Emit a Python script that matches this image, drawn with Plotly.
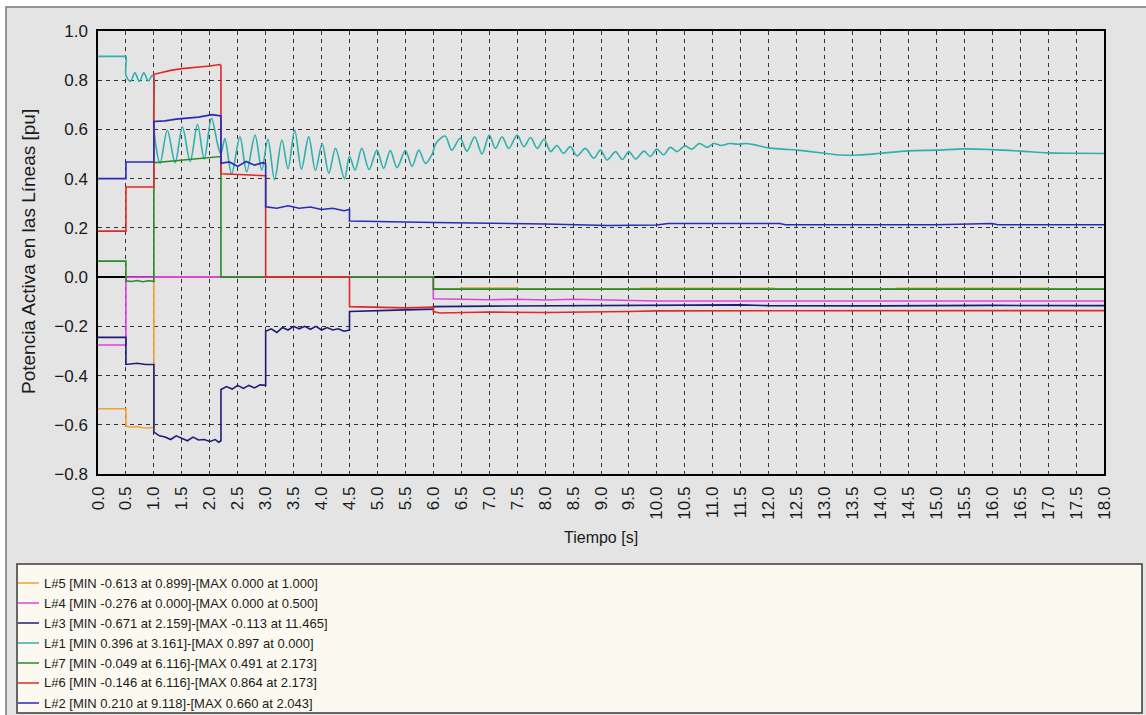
import plotly.graph_objects as go

# ---------------- data ----------------
t_L5 = [0.0, 0.5, 0.5, 0.6, 0.7, 0.8, 0.9, 1.0, 1.0, 6.0, 6.0, 6.5, 6.5, 7.5, 7.5, 9.7, 9.7, 12.1, 12.1, 14.3, 14.3, 17.0, 17.0, 18.0]
v_L5 = [-0.535, -0.535, -0.605, -0.610, -0.607, -0.612, -0.613, -0.610, 0.0, 0.0, -0.049, -0.049, -0.044, -0.044, -0.049, -0.049, -0.045, -0.045, -0.049, -0.049, -0.045, -0.045, -0.049, -0.049]

t_L4 = [0.0, 0.5, 0.5, 6.0, 6.0, 6.5, 7.0, 7.5, 8.0, 8.5, 9.0, 9.5, 10.0, 18.0]
v_L4 = [-0.276, -0.276, 0.0, 0.0, -0.088, -0.090, -0.092, -0.090, -0.093, -0.090, -0.092, -0.095, -0.097, -0.097]

t_L3 = [0.0, 0.5, 0.5, 0.7, 0.85, 1.0, 1.0, 1.1, 1.2, 1.3, 1.4, 1.5, 1.6, 1.7, 1.8, 1.9, 2.0, 2.1, 2.16, 2.2,
        2.2, 2.3, 2.4, 2.5, 2.6, 2.7, 2.8, 2.9, 3.0, 3.0, 3.1, 3.2, 3.3, 3.4, 3.5, 3.6, 3.7, 3.8, 3.9, 4.0,
        4.1, 4.2, 4.3, 4.4, 4.5, 4.5, 5.0, 5.5, 6.0, 6.0, 7.0, 8.0, 9.0, 10.0, 11.0, 11.465, 12.0, 14.0, 16.0, 18.0]
v_L3 = [-0.245, -0.245, -0.355, -0.350, -0.355, -0.355, -0.630, -0.645, -0.650, -0.660, -0.645, -0.655, -0.665, -0.650, -0.662, -0.660, -0.668, -0.660, -0.671, -0.665,
        -0.457, -0.445, -0.455, -0.440, -0.452, -0.440, -0.450, -0.438, -0.440, -0.220, -0.210, -0.225, -0.205, -0.215, -0.200, -0.210, -0.200, -0.212, -0.200, -0.215,
        -0.205, -0.215, -0.210, -0.220, -0.215, -0.140, -0.135, -0.133, -0.130, -0.120, -0.118, -0.117, -0.118, -0.116, -0.115, -0.113, -0.116, -0.117, -0.115, -0.116]

t_L1 = [0.0, 0.25, 0.47, 0.5, 0.5, 0.58, 0.66, 0.74, 0.82, 0.90, 0.97, 1.0, 1.0, 1.11, 1.24, 1.38, 1.51, 1.65, 1.78, 1.90, 2.03, 2.15,
        2.20, 2.27, 2.39, 2.54, 2.66, 2.81, 2.93, 3.04, 3.16, 3.29, 3.40, 3.52, 3.64, 3.77, 3.89, 4.01, 4.13, 4.25, 4.41, 4.50,
        4.60, 4.72, 4.85, 4.99, 5.11, 5.23, 5.35, 5.50, 5.62, 5.74, 5.86, 5.98, 6.05, 6.21, 6.33, 6.48, 6.60, 6.74, 6.87, 7.00,
        7.11, 7.23, 7.35, 7.50, 7.62, 7.74, 7.86, 7.98, 8.10, 8.21, 8.33, 8.45, 8.57, 8.72, 8.87, 8.99, 9.11, 9.26, 9.38, 9.50,
        9.62, 9.77, 9.88, 10.00, 10.12, 10.24, 10.36, 10.50, 10.63, 10.76, 10.90, 11.02, 11.15, 11.30, 11.45, 11.60, 11.80, 12.00, 12.25, 12.50,
        12.75, 13.00, 13.30, 13.60, 14.00, 14.50, 15.00, 15.50, 16.00, 16.50, 17.00, 17.50, 18.00]
v_L1 = [0.897, 0.897, 0.897, 0.897, 0.82, 0.795, 0.83, 0.795, 0.83, 0.797, 0.82, 0.81, 0.604, 0.462, 0.597, 0.465, 0.61, 0.47, 0.62, 0.48, 0.645, 0.53,
        0.50, 0.563, 0.42, 0.57, 0.428, 0.577, 0.435, 0.56, 0.396, 0.557, 0.44, 0.597, 0.438, 0.57, 0.433, 0.543, 0.422, 0.523, 0.40, 0.49,
        0.435, 0.523, 0.437, 0.516, 0.442, 0.514, 0.445, 0.514, 0.45, 0.516, 0.462, 0.50, 0.545, 0.573, 0.516, 0.564, 0.512, 0.57, 0.50, 0.577,
        0.523, 0.57, 0.523, 0.577, 0.53, 0.567, 0.523, 0.56, 0.51, 0.535, 0.503, 0.53, 0.492, 0.523, 0.483, 0.516, 0.476, 0.51, 0.478, 0.51,
        0.48, 0.512, 0.49, 0.52, 0.497, 0.527, 0.51, 0.533, 0.52, 0.543, 0.527, 0.543, 0.535, 0.543, 0.54, 0.543, 0.535, 0.525, 0.52, 0.516,
        0.51, 0.503, 0.496, 0.496, 0.503, 0.513, 0.516, 0.521, 0.518, 0.512, 0.505, 0.503, 0.502]

t_L7 = [0.0, 0.5, 0.5, 0.6, 0.7, 0.8, 0.9, 1.0, 1.0, 1.3, 1.6, 1.9, 2.173, 2.2, 2.2, 6.0, 6.0, 18.0]
v_L7 = [0.065, 0.065, -0.015, -0.018, -0.014, -0.019, -0.015, -0.017, 0.465, 0.472, 0.478, 0.485, 0.491, 0.490, 0.0, 0.0, -0.049, -0.049]

t_L6 = [0.0, 0.5, 0.5, 1.0, 1.0, 1.3, 1.5, 1.8, 2.0, 2.173, 2.2, 2.2, 2.6, 3.0, 3.0, 4.5, 4.5, 5.0, 5.5, 6.0,
        6.0, 6.116, 7.0, 8.0, 9.0, 9.5, 10.0, 12.0, 14.0, 16.0, 18.0]
v_L6 = [0.187, 0.187, 0.366, 0.366, 0.824, 0.840, 0.847, 0.853, 0.858, 0.864, 0.860, 0.420, 0.415, 0.412, 0.0, 0.0, -0.120, -0.123, -0.125, -0.122,
        -0.140, -0.146, -0.142, -0.144, -0.143, -0.140, -0.137, -0.136, -0.136, -0.137, -0.136]

t_L2 = [0.0, 0.5, 0.5, 1.0, 1.0, 1.2, 1.4, 1.6, 1.8, 2.043, 2.2, 2.2, 2.35, 2.5, 2.65, 2.8, 2.95, 3.0, 3.0, 3.2,
        3.4, 3.6, 3.8, 4.0, 4.2, 4.4, 4.5, 4.5, 5.0, 5.5, 6.0, 7.0, 8.0, 9.118, 10.0, 10.2, 12.2, 12.3, 15.0, 16.0, 16.1, 18.0]
v_L2 = [0.400, 0.400, 0.468, 0.468, 0.632, 0.635, 0.642, 0.645, 0.650, 0.660, 0.655, 0.462, 0.468, 0.450, 0.470, 0.455, 0.465, 0.460, 0.286, 0.280,
        0.290, 0.280, 0.285, 0.275, 0.280, 0.270, 0.275, 0.228, 0.225, 0.224, 0.222, 0.220, 0.216, 0.210, 0.212, 0.218, 0.218, 0.213, 0.213, 0.218, 0.213, 0.213]

series_names = ["L#5", "L#4", "L#3", "L#1", "L#7", "L#6", "L#2"]
legend_labels = [
    "L#5 [MIN -0.613 at 0.899]-[MAX 0.000 at 1.000]",
    "L#4 [MIN -0.276 at 0.000]-[MAX 0.000 at 0.500]",
    "L#3 [MIN -0.671 at 2.159]-[MAX -0.113 at 11.465]",
    "L#1 [MIN 0.396 at 3.161]-[MAX 0.897 at 0.000]",
    "L#7 [MIN -0.049 at 6.116]-[MAX 0.491 at 2.173]",
    "L#6 [MIN -0.146 at 6.116]-[MAX 0.864 at 2.173]",
    "L#2 [MIN 0.210 at 9.118]-[MAX 0.660 at 2.043]",
]
x_title = "Tiempo [s]"
y_title = "Potencia Activa en las Líneas [pu]"

# ---------------- styling ----------------
W, H = 1146, 715
PL, PR, PT, PB = 98, 1104, 31, 474   # plot area in px
colors = ["#f0a030", "#e040e0", "#1c1c78", "#2fb0ad", "#2a8a2a", "#e02828", "#2a2ab8"]
shapes_kind = ["linear", "linear", "linear", "spline", "linear", "linear", "linear"]
FONT = "Liberation Sans, Arial, sans-serif"


def px2x(px):
    return (px - PL) / (PR - PL)


def py2y(py):
    return (PB - py) / (PB - PT)


ts = [t_L5, t_L4, t_L3, t_L1, t_L7, t_L6, t_L2]
vs = [v_L5, v_L4, v_L3, v_L1, v_L7, v_L6, v_L2]

fig = go.Figure()
for name, t, v, c, sk in zip(series_names, ts, vs, colors, shapes_kind):
    line = dict(color=c, width=1.6, shape=sk)
    if sk == "spline":
        line["smoothing"] = 0.9
    fig.add_trace(go.Scatter(x=t, y=v, mode="lines", name=name,
                             line=line, showlegend=False))

shapes = []
# outer window frame
shapes.append(dict(type="rect", xref="paper", yref="paper", layer="below",
                   x0=px2x(6), x1=px2x(1150), y0=py2y(720), y1=py2y(7),
                   fillcolor="#e4e4e4", line=dict(color="#7a7a7a", width=1.5)))
# legend box
shapes.append(dict(type="rect", xref="paper", yref="paper", layer="above",
                   x0=px2x(17), x1=px2x(1142), y0=py2y(713), y1=py2y(564),
                   fillcolor="#fcfaf0", line=dict(color="#3a3a3a", width=1.5)))

annotations = []
row0, row_step = 583, 20
for i, (lab, c) in enumerate(zip(legend_labels, colors)):
    yy = row0 + i * row_step
    shapes.append(dict(type="line", xref="paper", yref="paper", layer="above",
                       x0=px2x(18), x1=px2x(39), y0=py2y(yy), y1=py2y(yy),
                       line=dict(color=c, width=1.5)))
    annotations.append(dict(text=lab, xref="paper", yref="paper", x=px2x(42), y=py2y(yy),
                            xanchor="left", yanchor="middle", showarrow=False,
                            font=dict(family=FONT, size=13, color="#1a1a1a")))

annotations.append(dict(text=x_title, xref="paper", yref="paper", x=px2x(601), y=py2y(537),
                        xanchor="center", yanchor="middle", showarrow=False,
                        font=dict(family=FONT, size=16, color="#1a1a1a")))
annotations.append(dict(text=y_title, xref="paper", yref="paper", x=px2x(28), y=py2y(252),
                        xanchor="center", yanchor="middle", showarrow=False, textangle=-90,
                        font=dict(family=FONT, size=19, color="#1a1a1a")))

fig.update_layout(
    width=W, height=H,
    margin=dict(l=PL, r=W - PR, t=PT, b=H - PB, pad=0),
    paper_bgcolor="#ffffff",
    plot_bgcolor="#e0e0e0",
    shapes=shapes,
    annotations=annotations,
    showlegend=False,
    font=dict(family=FONT, color="#1a1a1a"),
)
fig.update_xaxes(range=[0, 18], dtick=0.5, tick0=0, tickformat=".1f", tickangle=-90,
                 showgrid=True, gridcolor="#303030", gridwidth=1, griddash="4px,4px",
                 showline=True, linecolor="#000000", linewidth=1.5, mirror=True,
                 zeroline=False, ticks="", ticklabelstandoff=4,
                 tickfont=dict(family=FONT, size=17, color="#1a1a1a"))
fig.update_yaxes(range=[-0.8, 1.0], dtick=0.2, tick0=0, tickformat=".1f",
                 showgrid=True, gridcolor="#303030", gridwidth=1, griddash="4px,4px",
                 showline=True, linecolor="#000000", linewidth=1.5, mirror=True,
                 zeroline=True, zerolinecolor="#000000", zerolinewidth=1.5,
                 ticks="", ticklabelstandoff=5,
                 tickfont=dict(family=FONT, size=17, color="#1a1a1a"))

fig.write_html("out.html")
